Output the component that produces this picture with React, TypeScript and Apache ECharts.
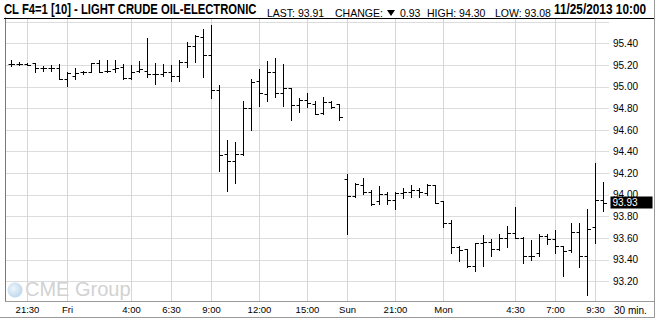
import React, { useEffect, useRef } from "react";
import * as echarts from "echarts";

const categories = [
  "Thu 20:30", "Thu 21:00", "Thu 21:30", "Thu 22:00", "Thu 22:30", "Thu 23:00", "Thu 23:30",
  "Fri 0:00", "Fri 0:30", "Fri 1:00", "Fri 1:30", "Fri 2:00", "Fri 2:30", "Fri 3:00", "Fri 3:30",
  "Fri 4:00", "Fri 4:30", "Fri 5:00", "Fri 5:30", "Fri 6:00", "Fri 6:30", "Fri 7:00", "Fri 7:30",
  "Fri 8:00", "Fri 8:30", "Fri 9:00", "Fri 9:30", "Fri 10:00", "Fri 10:30", "Fri 11:00", "Fri 11:30",
  "Fri 12:00", "Fri 12:30", "Fri 13:00", "Fri 13:30", "Fri 14:00", "Fri 14:30", "Fri 15:00", "Fri 15:30",
  "Fri 16:00", "Fri 16:30", "Fri 17:00",
  "Sun 18:00", "Sun 18:30", "Sun 19:00", "Sun 19:30", "Sun 20:00", "Sun 20:30", "Sun 21:00", "Sun 21:30",
  "Sun 22:00", "Sun 22:30", "Sun 23:00", "Sun 23:30",
  "Mon 0:00", "Mon 0:30", "Mon 1:00", "Mon 1:30", "Mon 2:00", "Mon 2:30", "Mon 3:00", "Mon 3:30",
  "Mon 4:00", "Mon 4:30", "Mon 5:00", "Mon 5:30", "Mon 6:00", "Mon 6:30", "Mon 7:00", "Mon 7:30",
  "Mon 8:00", "Mon 8:30", "Mon 9:00", "Mon 9:30", "Mon 10:00",
];

const opens = [
  95.21, 95.21, 95.21, 95.22, 95.17, 95.17, 95.17, 95.07, 95.10, 95.14,
  95.14, 95.22, 95.15, 95.16, 95.18, 95.08, 95.15, 95.15, 95.12, 95.12,
  95.14, 95.10, 95.23, 95.38, 95.46, 95.29, 94.97, 94.38, 94.31, 94.38,
  94.80, 95.05, 94.93, 95.14, 94.94, 94.99, 94.83, 94.88, 94.84, 94.76,
  94.86, 94.84, 94.15, 93.99, 94.09, 94.03, 93.94, 94.01, 93.95, 94.02,
  94.03, 94.05, 94.02, 94.09, 93.94, 93.74, 93.52, 93.50, 93.34, 93.56,
  93.57, 93.50, 93.60, 93.65, 93.60, 93.44, 93.46, 93.62, 93.59, 93.53,
  93.49, 93.66, 93.44, 93.70, 93.95,
];
const highs = [
  95.25, 95.23, 95.22, 95.22, 95.19, 95.20, 95.21, 95.14, 95.17, 95.15,
  95.22, 95.25, 95.25, 95.25, 95.21, 95.20, 95.24, 95.45, 95.22, 95.21,
  95.20, 95.25, 95.41, 95.48, 95.53, 95.57, 95.02, 94.51, 94.49, 94.87,
  95.07, 95.16, 95.24, 95.27, 95.21, 94.99, 94.90, 94.94, 94.87, 94.91,
  94.87, 94.84, 94.19, 94.11, 94.16, 94.05, 94.08, 94.03, 94.03, 94.06,
  94.09, 94.06, 94.10, 94.09, 93.94, 93.77, 93.53, 93.50, 93.56, 93.63,
  93.59, 93.64, 93.71, 93.89, 93.61, 93.58, 93.64, 93.64, 93.68, 93.53,
  93.74, 93.74, 93.87, 94.30, 94.12,
];
const lows = [
  95.19, 95.20, 95.20, 95.14, 95.15, 95.15, 95.07, 95.01, 95.07, 95.12,
  95.14, 95.14, 95.14, 95.14, 95.07, 95.07, 95.14, 95.09, 95.03, 95.10,
  95.05, 95.05, 95.18, 95.23, 95.09, 94.90, 94.22, 94.04, 94.11, 94.37,
  94.60, 94.82, 94.87, 94.91, 94.82, 94.69, 94.77, 94.81, 94.75, 94.75,
  94.80, 94.69, 93.64, 93.98, 94.01, 93.91, 93.92, 93.92, 93.87, 93.97,
  93.98, 93.98, 94.00, 93.93, 93.70, 93.46, 93.39, 93.33, 93.30, 93.34,
  93.44, 93.49, 93.52, 93.60, 93.37, 93.40, 93.44, 93.55, 93.46, 93.25,
  93.47, 93.33, 93.08, 93.56, 93.85,
];
const closes = [
  95.21, 95.21, 95.20, 95.17, 95.17, 95.17, 95.07, 95.13, 95.13, 95.14,
  95.22, 95.14, 95.15, 95.17, 95.08, 95.14, 95.16, 95.12, 95.12, 95.14,
  95.10, 95.23, 95.38, 95.47, 95.29, 94.97, 94.37, 94.31, 94.38, 94.80,
  95.04, 94.94, 95.14, 94.94, 94.99, 94.83, 94.88, 94.85, 94.75, 94.86,
  94.81, 94.72, 93.99, 94.10, 94.03, 93.92, 94.01, 93.95, 94.02, 94.03,
  94.05, 94.03, 94.09, 93.93, 93.74, 93.52, 93.49, 93.34, 93.56, 93.57,
  93.50, 93.60, 93.65, 93.60, 93.44, 93.44, 93.62, 93.59, 93.53, 93.48,
  93.66, 93.44, 93.69, 93.95, 93.93,
];

const xTickIndex = [2, 7, 15, 20, 25, 31, 37, 42, 48, 54, 63, 68, 73];
const xTickText = ["21:30", "Fri", "4:00", "6:30", "9:00", "12:00", "15:00", "Sun", "21:00", "Mon", "4:30", "7:00", "9:30"];
const yLabelMax = 95.4;

const titleText = "CL F4=1 [10] - LIGHT CRUDE OIL-ELECTRONIC";
const lastText = "LAST: 93.91";
const changeText = "0.93";
const highText = "HIGH: 94.30";
const lowText = "LOW: 93.08";
const dateText = "11/25/2013 10:00";
const periodText = "30 min.";

const Y_MIN = 93.02;
const Y_MAX = 95.636;
const FONT = "'Liberation Sans', Arial, Helvetica, sans-serif";

export default function App() {
  const ref = useRef<HTMLDivElement>(null);

  useEffect(() => {
    document.body.style.margin = "0";
    const chart = echarts.init(ref.current as HTMLDivElement, null, { renderer: "svg" });
    const data = categories.map((_, i) => [i, opens[i], highs[i], lows[i], closes[i]]);
    const lastClose = closes[closes.length - 1];

    const txt = (x: number, y: number, text: string, size: number, bold: boolean, scaleX = 1, fill = "#000") => ({
      type: "text",
      x,
      y,
      scaleX,
      z: 20,
      silent: true,
      style: {
        text,
        fontSize: size,
        fontWeight: bold ? "bold" : "normal",
        fontFamily: FONT,
        fill,
        align: "left",
        textAlign: "left",
        verticalAlign: "middle",
        textVerticalAlign: "middle",
      },
    });

    const baseGraphic: any[] = [
      {
        type: "circle",
        z: -1,
        silent: true,
        shape: { cx: 15, cy: 290, r: 7.5 },
        style: {
          fill: new echarts.graphic.RadialGradient(0.4, 0.4, 0.7, [
            { offset: 0, color: "#eef6fc" },
            { offset: 1, color: "#b7d4ea" },
          ]),
        },
      },
      {
        type: "text",
        x: 25,
        y: 288.5,
        z: -1,
        silent: true,
        style: {
          text: "CME Group",
          fontSize: 20,
          fontFamily: FONT,
          fill: "#d2d2d2",
          align: "left",
          textAlign: "left",
          verticalAlign: "middle",
          textVerticalAlign: "middle",
        },
      },
      txt(4, 9.5, titleText, 14, true, 0.804),
      txt(267, 13, lastText, 10.5, false),
      txt(335, 13, "CHANGE:", 10.5, false),
      {
        type: "polygon",
        z: 20,
        silent: true,
        shape: { points: [[387, 10], [395, 10], [391, 16]] },
        style: { fill: "#000" },
      },
      txt(400, 13, changeText, 10.5, false),
      txt(427, 13, highText, 10.5, false),
      txt(495, 13, lowText, 10.5, false),
      txt(554, 9.5, dateText, 14, true, 0.845),
      txt(614, 310, periodText, 10, false),
      {
        type: "line",
        z: 20,
        silent: true,
        shape: { x1: 4, y1: 18.5, x2: 655, y2: 18.5 },
        style: { stroke: "#000", lineWidth: 1 },
      },
      {
        type: "line",
        z: 20,
        silent: true,
        shape: { x1: 5, y1: 301.5, x2: 655, y2: 301.5 },
        style: { stroke: "#9a9a9a", lineWidth: 1 },
      },
      {
        type: "line",
        z: 20,
        silent: true,
        shape: { x1: 0, y1: 317.5, x2: 655, y2: 317.5 },
        style: { stroke: "#9a9a9a", lineWidth: 1 },
      },
      {
        type: "line",
        z: 20,
        silent: true,
        shape: { x1: 654.5, y1: 0, x2: 654.5, y2: 318 },
        style: { stroke: "#9a9a9a", lineWidth: 1 },
      },
    ];

    const option: any = {
      animation: false,
      backgroundColor: "#fff",
      grid: [
        { left: 5, right: 48, top: 18, bottom: 21 },
        { left: 7.5, width: 600, top: 18, bottom: 21 },
      ],
      xAxis: [
        { type: "value", gridIndex: 0, show: false, min: 0, max: 1 },
        {
          type: "category",
          gridIndex: 1,
          data: categories,
          boundaryGap: true,
          axisLine: { show: false },
          axisTick: { show: false },
          splitLine: { show: false },
          axisLabel: {
            interval: (i: number) => xTickIndex.indexOf(i) >= 0,
            formatter: (_v: string, i: number) => {
              const k = xTickIndex.indexOf(i);
              return k >= 0 ? xTickText[k] : "";
            },
            fontSize: 9.5,
            color: "#000",
            fontFamily: FONT,
            margin: 3,
          },
        },
      ],
      yAxis: [
        {
          type: "value",
          gridIndex: 0,
          position: "right",
          min: Y_MIN,
          max: Y_MAX,
          splitNumber: 13,
          axisLine: { show: true, lineStyle: { color: "#7a7a7a", width: 1 } },
          axisTick: { show: false },
          splitLine: { show: true, lineStyle: { color: "#dcdcdc", width: 1 } },
          axisLabel: {
            show: true,
            fontSize: 10,
            color: "#000",
            fontFamily: FONT,
            margin: 4,
            padding: [4, 0, 0, 0],
            showMinLabel: false,
            showMaxLabel: false,
            formatter: (v: number) => (v > yLabelMax + 0.01 ? "" : v.toFixed(2)),
          },
        },
        { type: "value", gridIndex: 1, min: Y_MIN, max: Y_MAX, show: false },
      ],
      series: [
        {
          type: "line",
          xAxisIndex: 1,
          yAxisIndex: 1,
          data: [[closes.length - 1, lastClose]],
          symbol: "none",
          showSymbol: false,
          lineStyle: { color: "rgba(0,0,0,0)", width: 0 },
          silent: true,
          z: 8,
          markLine: {
            silent: true,
            animation: false,
            symbol: ["none", "none"],
            emphasis: { disabled: true },
            lineStyle: { color: "rgba(0,0,0,0)", width: 0, opacity: 1 },
            label: {
              show: true,
              position: "end",
              distance: 3,
              formatter: lastClose.toFixed(2),
              color: "#fff",
              backgroundColor: "#000",
              padding: [1, 15, 0, 2],
              lineHeight: 11,
              fontSize: 10,
              fontFamily: FONT,
              opacity: 1,
            },
            data: [{ yAxis: lastClose }],
          },
        },
        {
          type: "custom",
          xAxisIndex: 1,
          yAxisIndex: 1,
          data,
          z: 5,
          silent: true,
          clip: false,
          encode: { x: 0, y: [1, 2, 3, 4] },
          renderItem: (params: any, api: any) => {
            const idx = params.dataIndex;
            const po = api.coord([idx, api.value(1)]);
            const ph = api.coord([idx, api.value(2)]);
            const pl = api.coord([idx, api.value(3)]);
            const pc = api.coord([idx, api.value(4)]);
            const x = Math.floor(po[0]) + 0.5;
            const r = (y: number) => Math.round(y) + 0.5;
            const style = { stroke: "#000", lineWidth: 1 };
            return {
              type: "group",
              children: [
                { type: "line", shape: { x1: x, y1: Math.round(ph[1]), x2: x, y2: Math.round(pl[1]) + 1 }, style },
                { type: "line", shape: { x1: x - 3, y1: r(po[1]), x2: x, y2: r(po[1]) }, style },
                { type: "line", shape: { x1: x, y1: r(pc[1]), x2: x + 3.5, y2: r(pc[1]) }, style },
              ],
            };
          },
        },
      ],
      graphic: baseGraphic,
    };

    chart.setOption(option);

    // vertical time grid lines, placed through the category axis scale
    const yTop = chart.convertToPixel({ yAxisIndex: 1 } as any, Y_MAX) as unknown as number;
    const yBottom = chart.convertToPixel({ yAxisIndex: 1 } as any, Y_MIN) as unknown as number;
    const vLines = xTickIndex.map((i) => {
      let px = chart.convertToPixel({ xAxisIndex: 1 } as any, categories[i]) as unknown as number;
      if (typeof px !== "number" || !isFinite(px)) {
        px = chart.convertToPixel({ xAxisIndex: 1 } as any, i) as unknown as number;
      }
      const x = Math.floor(px) + 0.5;
      return {
        type: "line",
        z: 1,
        silent: true,
        shape: { x1: x, y1: yTop, x2: x, y2: yBottom },
        style: { stroke: "#d6d6d6", lineWidth: 1 },
      };
    });
    chart.setOption({ graphic: [...baseGraphic, ...vLines] });

    return () => chart.dispose();
  }, []);

  return <div ref={ref} style={{ position: "absolute", left: 0, top: 0, width: 657, height: 322 }} />;
}
